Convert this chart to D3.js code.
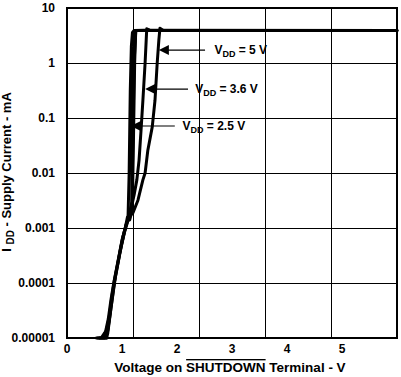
<!DOCTYPE html>
<html>
<head>
<meta charset="utf-8">
<script src="https://cdn.jsdelivr.net/npm/d3@7"></script>
<style>
  body { margin: 0; background: #fff; }
  text { font-family: "Liberation Sans", Arial, Helvetica, sans-serif; font-weight: bold; fill: #000; }
</style>
</head>
<body>
<svg id="chart" width="401" height="377"></svg>
<script>
// x tick labels and decade ticks
var xTicks = [0, 1, 2, 3, 4, 5];
var xGrid = [1.2, 2.4, 3.6, 4.8];
var yTicks = [10, 1, 0.1, 0.01, 0.001, 0.0001, 0.00001];
var yTickLabels = ['10', '1', '0.1', '0.01', '0.001', '0.0001', '0.00001'];

// each trace: voltage sweep up then back down [V, mA]
var vdd25 = [
  [0.52, 1e-5], [0.62, 1e-5], [0.7, 1.3e-5], [0.75, 2.2e-5], [0.8, 5e-5], [0.85, 1e-4],
  [0.93, 2.6e-4], [1.0, 6e-4], [1.06, 1e-3], [1.11, 1.6e-3], [1.13, 0.01], [1.15, 0.3],
  [1.17, 2.0], [1.19, 3.6], [1.22, 3.9], [1.4, 3.95], [6.0, 3.9],
  [1.24, 3.9], [1.21, 1.0], [1.19, 0.05], [1.18, 2e-3], [1.14, 1.4e-3], [1.1, 1.6e-3],
  [1.05, 9e-4], [0.99, 5e-4], [0.9, 1.8e-4], [0.82, 6e-5], [0.76, 2e-5], [0.72, 1e-5], [0.6, 1e-5]
];
var vdd36 = [
  [0.55, 1e-5], [0.65, 1e-5], [0.72, 1.4e-5], [0.77, 2.5e-5], [0.82, 6e-5], [0.86, 1.1e-4],
  [0.94, 2.8e-4], [1.01, 6.5e-4], [1.07, 1.1e-3], [1.15, 1.9e-3], [1.22, 4e-3], [1.27, 7.5e-3],
  [1.31, 0.017], [1.35, 0.069], [1.38, 0.21], [1.42, 1.0], [1.44, 2.6], [1.45, 4.2],
  [1.5, 3.95], [6.0, 3.9],
  [1.25, 3.9], [1.22, 1.0], [1.2, 0.05], [1.18, 3e-3], [1.12, 1.5e-3],
  [1.04, 8e-4], [0.96, 3.5e-4], [0.86, 1e-4], [0.78, 2.5e-5], [0.72, 1e-5], [0.62, 1e-5]
];
var vdd5 = [
  [0.58, 1e-5], [0.68, 1e-5], [0.74, 1.5e-5], [0.79, 3e-5], [0.84, 7e-5], [0.88, 1.3e-4],
  [0.95, 3e-4], [1.02, 7e-4], [1.08, 1.2e-3], [1.13, 1.6e-3], [1.2, 1.9e-3], [1.29, 3.2e-3],
  [1.38, 7.5e-3], [1.42, 0.01], [1.47, 0.026], [1.55, 0.069], [1.6, 0.21], [1.64, 1.0],
  [1.67, 2.6], [1.69, 4.3], [1.75, 3.9], [6.0, 3.9],
  [1.25, 3.9], [1.23, 1.0], [1.21, 0.05], [1.19, 3e-3], [1.13, 1.6e-3],
  [1.06, 1e-3], [0.98, 4.5e-4], [0.88, 1.3e-4], [0.8, 3.5e-5], [0.74, 1.2e-5], [0.66, 1e-5]
];

// annotation arrows: tip [V, mA], line end V, label start V
var notes = [
  { label: '5 V', tip: [1.67, 1.72], lineEnd: 2.51, textX: 2.68 },
  { label: '3.6 V', tip: [1.42, 0.336], lineEnd: 2.2, textX: 2.33 },
  { label: '2.5 V', tip: [1.16, 0.0716], lineEnd: 1.96, textX: 2.1 }
];

var margin = { top: 8, left: 67, right: 4, bottom: 39 };
var width = 401 - margin.left - margin.right;
var height = 377 - margin.top - margin.bottom;

var svg = d3.select('#chart');

var x = d3.scaleLinear().domain([0, 6]).range([margin.left, margin.left + width]);
var y = d3.scaleLog().domain([1e-5, 10]).range([margin.top + height, margin.top]);

var grid = svg.append('g');
grid.selectAll('line.v').data(xGrid).enter().append('line')
    .attr('x1', function(d) { return x(d); }).attr('x2', function(d) { return x(d); })
    .attr('y1', margin.top).attr('y2', margin.top + height)
    .style('stroke', '#000').style('stroke-width', 1).style('shape-rendering', 'crispEdges');
grid.selectAll('line.h').data(yTicks.slice(1, -1)).enter().append('line')
    .attr('x1', margin.left).attr('x2', margin.left + width)
    .attr('y1', function(d) { return y(d); }).attr('y2', function(d) { return y(d); })
    .style('stroke', '#000').style('stroke-width', 1).style('shape-rendering', 'crispEdges');

svg.append('rect')
    .attr('x', margin.left).attr('y', margin.top)
    .attr('width', width).attr('height', height)
    .style('fill', 'none').style('stroke', '#000').style('stroke-width', 2);

// tick labels
svg.append('g').selectAll('text').data(xTicks).enter().append('text')
    .attr('x', function(d) { return x(d); })
    .attr('y', margin.top + height + 15)
    .attr('text-anchor', 'middle')
    .style('font-size', '12px')
    .text(function(d) { return d; });
svg.append('g').selectAll('text').data(yTicks).enter().append('text')
    .attr('x', margin.left - 12)
    .attr('y', function(d) { return y(d) + 4; })
    .attr('text-anchor', 'end')
    .style('font-size', '12px')
    .text(function(d, i) { return yTickLabels[i]; });

// axis titles
var xt = svg.append('text')
    .attr('x', 230).attr('y', 372)
    .attr('text-anchor', 'middle')
    .style('font-size', '13.5px');
xt.append('tspan').text('Voltage on ');
xt.append('tspan').style('text-decoration', 'overline').text('SHUTDOWN');
xt.append('tspan').text(' Terminal - V');

var yt = svg.append('text')
    .attr('transform', 'translate(11,172) rotate(-90)')
    .attr('text-anchor', 'middle')
    .style('font-size', '13px');
yt.append('tspan').text('I ');
yt.append('tspan').attr('dy', 3).style('font-size', '10px').text('DD');
yt.append('tspan').attr('dy', -3).text(' - Supply Current - mA');

// traces
var line = d3.line()
    .x(function(d) { return x(d[0]); })
    .y(function(d) { return y(d[1]); })
    .curve(d3.curveLinear);
svg.append('g').selectAll('path').data([vdd25, vdd36, vdd5]).enter().append('path')
    .attr('d', line)
    .style('fill', 'none').style('stroke', '#000')
    .style('stroke-width', 3).style('stroke-linejoin', 'round');

// annotations
var ann = svg.append('g').selectAll('g').data(notes).enter().append('g');
ann.append('path')
    .attr('d', function(d) {
        var tx = x(d.tip[0]), ty = y(d.tip[1]);
        return 'M' + tx + ',' + ty + 'L' + (tx + 10) + ',' + (ty - 5) + 'L' + (tx + 10) + ',' + (ty + 5) + 'Z';
    })
    .style('fill', '#000');
ann.append('line')
    .attr('x1', function(d) { return x(d.tip[0]) + 9; })
    .attr('x2', function(d) { return x(d.lineEnd); })
    .attr('y1', function(d) { return y(d.tip[1]); })
    .attr('y2', function(d) { return y(d.tip[1]); })
    .style('stroke', '#000').style('stroke-width', 1.2);
var lab = ann.append('text')
    .attr('x', function(d) { return x(d.textX); })
    .attr('y', function(d) { return y(d.tip[1]) + 4; })
    .style('font-size', '12px');
lab.append('tspan').text('V');
lab.append('tspan').attr('dy', 3).style('font-size', '9px').text('DD');
lab.append('tspan').attr('dy', -3).text(function(d) { return ' = ' + d.label; });
</script>
</body>
</html>
